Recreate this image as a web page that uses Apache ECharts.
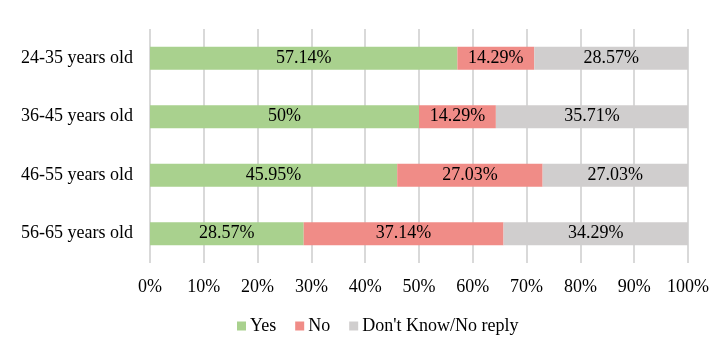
<!DOCTYPE html>
<html><head><meta charset="utf-8">
<script src="https://cdn.jsdelivr.net/npm/echarts@6/dist/echarts.min.js"></script>
<style>html,body{margin:0;padding:0;background:#fff}#c{width:709px;height:350px}</style>
</head><body><div id="c"></div>
<script>
const categories = ["24-35 years old","36-45 years old","46-55 years old","56-65 years old"];
const yesValues = [57.14, 50, 45.95, 28.57];
const noValues = [14.29, 14.29, 27.03, 37.14];
const dkValues = [28.57, 35.71, 27.03, 34.29];
const seriesNames = ["Yes","No","Don't Know/No reply"];
const colors = ["#A9D18E","#F08C87","#D0CECE"];
const font = "'Liberation Serif', 'Times New Roman', serif";
const chart = echarts.init(document.getElementById('c'));
function mk(name, data, color){
  return {name, type:'bar', stack:'t', data, barWidth:23, itemStyle:{color},
    label:{show:true, position:'inside', color:'#000', fontFamily:font, fontSize:18,
      formatter: p => p.value + '%'}};
}
chart.setOption({
  animation:false,
  textStyle:{fontFamily:font},
  grid:{left:150, right:21, top:29, bottom:87, containLabel:false, outerBoundsMode:'none'},
  legend:{bottom:10, left:232, itemWidth:9, itemHeight:9, itemGap:19, icon:'rect',
    textStyle:{fontFamily:font, fontSize:18, color:'#000', padding:[0,0,0,-1]}},
  xAxis:{type:'value', min:0, max:100, interval:10,
    axisLabel:{formatter:'{value}%', fontFamily:font, fontSize:18, color:'#000', margin:15},
    splitLine:{lineStyle:{color:'#D9D9D9', width:2}}, axisLine:{show:false}, axisTick:{show:false}},
  yAxis:{type:'category', data:categories, inverse:true,
    axisLabel:{fontFamily:font, fontSize:18, color:'#000', margin:17},
    axisLine:{show:false}, axisTick:{show:false}},
  series:[mk(seriesNames[0], yesValues, colors[0]), mk(seriesNames[1], noValues, colors[1]), mk(seriesNames[2], dkValues, colors[2])]
});
</script></body></html>
